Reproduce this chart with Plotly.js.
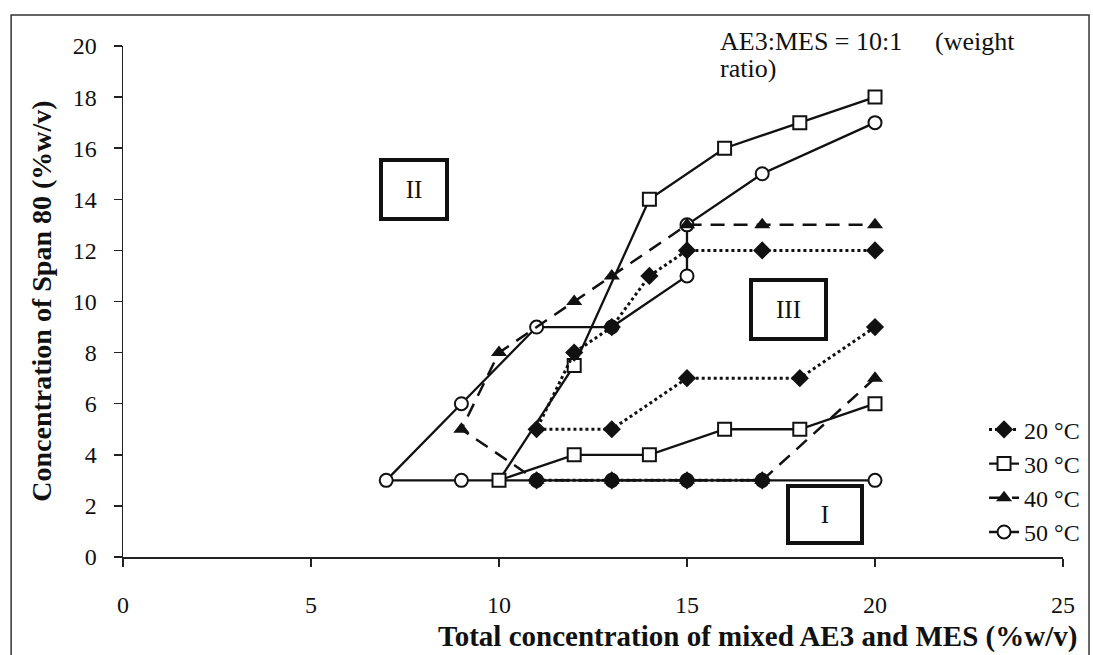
<!DOCTYPE html>
<html>
<head>
<meta charset="utf-8">
<script src="https://cdn.plot.ly/plotly-3.0.1.min.js"></script>
<style>
  html, body { margin: 0; padding: 0; background: #fff; }
  #chart { width: 1093px; height: 655px; }
</style>
</head>
<body>
<div id="chart"></div>
<script>
// Phase boundaries of the AE3/MES + Span 80 system at four temperatures.
// null splits a series into separate segments.
const x20 = [11, 13, 15, 17, null, 20, 18, 15, 13, 11, 12, 13, 14, 15, 17, 20];
const y20 = [3, 3, 3, 3, null, 9, 7, 7, 5, 5, 8, 9, 11, 12, 12, 12];

const x30 = [20, 18, 16, 14, 12, 10, 12, 14, 16, 18, 20];
const y30 = [6, 5, 5, 4, 4, 3, 7.5, 14, 16, 17, 18];

const x40 = [20, 17, 15, 13, 11, 9, 10, 12, 13, 15, 17, 20];
const y40 = [7, 3, 3, 3, 3, 5, 8, 10, 11, 13, 13, 13];

const x50 = [20, 17, 15, 13, 11, 9, 7, 9, 11, 13, 15, 15, 17, 20];
const y50 = [3, 3, 3, 3, 3, 3, 3, 6, 9, 9, 11, 13, 15, 17];

const seriesNames = ['20 °C', '30 °C', '40 °C', '50 °C'];
const regionLabels = ['I', 'II', 'III'];
const regionX = [18.66, 7.73, 17.71];
const regionY = [1.68, 14.4, 9.67];

const SERIF = 'Liberation Serif, Times New Roman, serif';
const INK = '#111';

// open-marker series first so the filled markers sit on top of them
const traces = [
  {
    x: x50, y: y50, name: seriesNames[3], legendrank: 4,
    mode: 'lines+markers', connectgaps: false,
    line: { color: INK, width: 2.3 },
    marker: { symbol: 'circle', size: 13, color: '#fff', line: { color: INK, width: 2 } }
  },
  {
    x: x30, y: y30, name: seriesNames[1], legendrank: 2,
    mode: 'lines+markers',
    line: { color: INK, width: 2.3 },
    marker: { symbol: 'square', size: 13, color: '#fff', line: { color: INK, width: 2 } }
  },
  {
    x: x40, y: y40, name: seriesNames[2], legendrank: 3,
    mode: 'lines+markers',
    line: { color: INK, width: 2.5, dash: '14px,9px' },
    marker: { symbol: 'triangle-up', size: 14, color: INK }
  },
  {
    x: x20, y: y20, name: seriesNames[0], legendrank: 1,
    mode: 'lines+markers', connectgaps: false,
    line: { color: INK, width: 3, dash: 'dot' },
    marker: { symbol: 'diamond', size: 14, color: INK }
  }
];

const boxSizes = [[70, 53], [62, 55], [71, 55]];
const annotations = regionLabels.map((t, i) => ({
  text: t, x: regionX[i], y: regionY[i], xref: 'x', yref: 'y',
  showarrow: false, font: { family: SERIF, size: 25, color: INK },
  width: boxSizes[i][0], height: boxSizes[i][1],
  bordercolor: INK, borderwidth: 4, borderpad: 0, bgcolor: '#fff'
}));

annotations.push(
  { text: 'AE3:MES = 10:1', xref: 'paper', yref: 'paper', x: 0.633, y: 1.008,
    xanchor: 'left', yanchor: 'middle', showarrow: false,
    font: { family: SERIF, size: 26, color: INK } },
  { text: '(weight', xref: 'paper', yref: 'paper', x: 0.862, y: 1.008,
    xanchor: 'left', yanchor: 'middle', showarrow: false,
    font: { family: SERIF, size: 26, color: INK } },
  { text: 'ratio)', xref: 'paper', yref: 'paper', x: 0.633, y: 0.955,
    xanchor: 'left', yanchor: 'middle', showarrow: false,
    font: { family: SERIF, size: 26, color: INK } },
  { text: '<b>Total concentration of mixed AE3 and MES (%w/v)</b>',
    xref: 'paper', yref: 'paper', x: 1.017, y: -0.155,
    xanchor: 'right', yanchor: 'middle', showarrow: false,
    font: { family: SERIF, size: 29, color: INK } },
  { text: '<b>Concentration of Span 80 (%w/v)</b>',
    xref: 'paper', yref: 'paper', x: -0.087, y: 0.5, textangle: -90,
    xanchor: 'center', yanchor: 'middle', showarrow: false,
    font: { family: SERIF, size: 28, color: INK } }
);

const axisCommon = {
  showgrid: false, zeroline: false, showline: true, automargin: false,
  linecolor: '#222', linewidth: 1.5,
  ticks: 'outside', ticklen: 8, tickwidth: 1.5, tickcolor: '#222',
  tickfont: { family: SERIF, size: 24, color: INK },
  fixedrange: true
};

const layout = {
  width: 1093, height: 655,
  margin: { l: 123, r: 30, t: 46, b: 98, autoexpand: false },
  paper_bgcolor: '#fff', plot_bgcolor: '#fff',
  font: { family: SERIF, color: INK },
  xaxis: Object.assign({}, axisCommon, { range: [0, 25], dtick: 5, tick0: 0, ticklabelstandoff: 18 }),
  yaxis: Object.assign({}, axisCommon, { range: [0, 20], dtick: 2, tick0: 0, ticklabelstandoff: 12 }),
  showlegend: true,
  legend: {
    x: 0.916, y: 0.293, xanchor: 'left', yanchor: 'top',
    bgcolor: 'rgba(0,0,0,0)', borderwidth: 0,
    font: { family: SERIF, size: 24, color: INK },
    traceorder: 'normal', tracegroupgap: 0
  },
  annotations: annotations,
  shapes: [
    { type: 'rect', xref: 'paper', yref: 'paper',
      x0: -0.119, x1: 1.0277, y0: -0.25, y1: 1.0607,
      line: { color: '#333', width: 1.5 }, fillcolor: 'rgba(0,0,0,0)', layer: 'below' }
  ]
};

Plotly.newPlot('chart', traces, layout, { displayModeBar: false, staticPlot: true });
</script>
</body>
</html>
